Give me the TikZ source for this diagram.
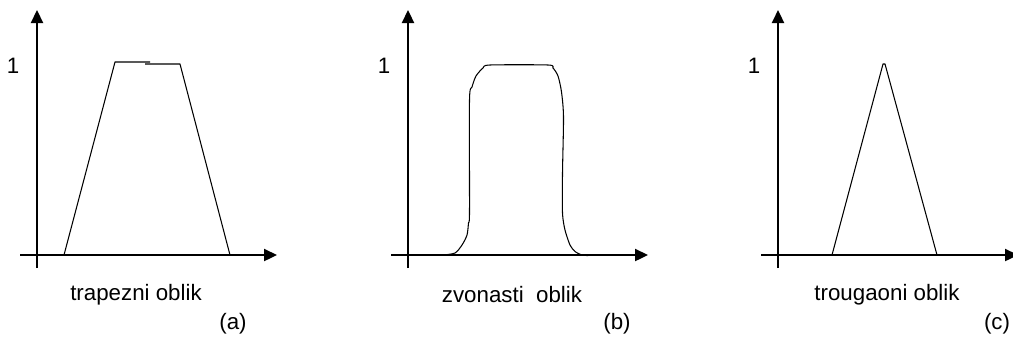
\documentclass[tikz,border=0pt]{standalone}
\usepackage{fontspec}
\setmainfont{Liberation Sans}
\usetikzlibrary{arrows.meta}

\begin{document}
\begin{tikzpicture}[
        x=0.02cm, y=-0.02cm,
        axis/.style={line width=1.3pt, -{Triangle[length=2.6mm, width=2.4mm]}},
        curve/.style={line width=0.6pt, line join=round},
        lbl/.style={font=\fontsize{12.7}{15}\selectfont, inner sep=0pt},
      ]
        \useasboundingbox (0,0) rectangle (1013,343);

        % axes of the three panels
        \foreach \ox/\p in {37/a, 408/b, 778/c} {
          \coordinate (o\p) at (\ox,255);
          \draw[axis] (\ox-17,255) -- (\ox+240,255);
          \draw[axis] (\ox,268) -- (\ox,10);
          \node[lbl] (one\p) at (\ox-24,66) {1};
        }

        % (a) trapezni
        \draw[curve] (64,255) -- (115,62) -- (150,62);
        \draw[curve] (145,64) -- (180,64) -- (230,255);

        % (b) zvonasti
        \draw[curve] plot[smooth, tension=0.45] coordinates {
          (443,255) (455,253) (462,245) (467,235) (468.5,223) (469.5,212)
          (469.5,100) (472,87) (476,76) (483,68) (490,65) (548,65)
          (553,68) (558,76) (561.5,92) (563.5,117) (562.5,173) (562.5,213)
          (565,230) (570,245) (575,251.5) (582,255) (588,255.5)};

        % (c) trougaoni
        \draw[curve] (832,255) -- (883,64) -- (885,64) -- (937,255);

        % captions
        \node[lbl] (namea) at (136,295) {trapezni oblik};
        \node[lbl] (nameb) at (512,295) {zvonasti\ \ oblik};
        \node[lbl] (namec) at (887,295) {trougaoni oblik};
        \node[lbl] (taga) at (233,324) {(a)};
        \node[lbl] (tagb) at (617,324) {(b)};
        \node[lbl] (tagc) at (997,324) {(c)};
      \end{tikzpicture}
\end{document}
